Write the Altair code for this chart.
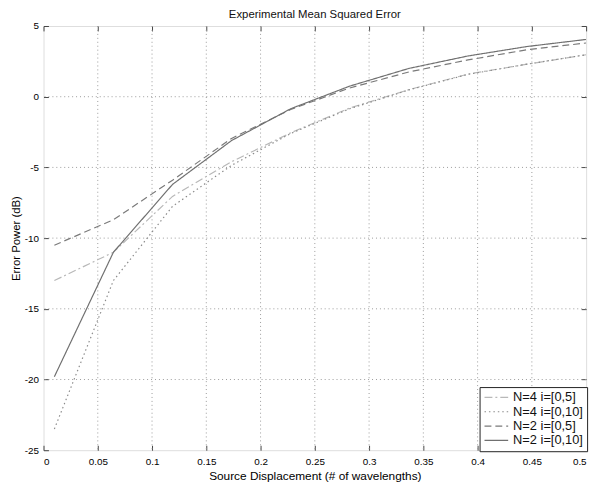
import altair as alt
import pandas as pd

# ---- data ----
x_vals = [0.01, 0.0644, 0.1189, 0.1733, 0.2278, 0.2822, 0.3367, 0.3911, 0.4456, 0.5]
series_names = ["N=4 i=[0,5]", "N=4 i=[0,10]", "N=2 i=[0,5]", "N=2 i=[0,10]"]
n4_05 = [-13.0, -11.0, -7.05, -4.6, -2.55, -0.8, 0.5, 1.6, 2.3, 2.97]
n4_010 = [-23.5, -13.0, -7.75, -4.85, -2.6, -0.85, 0.48, 1.58, 2.3, 2.97]
n2_05 = [-10.5, -8.7, -5.9, -2.95, -0.9, 0.62, 1.75, 2.6, 3.32, 3.8]
n2_010 = [-19.8, -11.0, -6.2, -3.1, -0.85, 0.75, 2.0, 2.88, 3.55, 4.05]

x_ticks = [0, 0.05, 0.1, 0.15, 0.2, 0.25, 0.3, 0.35, 0.4, 0.45, 0.5]
y_ticks = [-25, -20, -15, -10, -5, 0, 5]

line_colors = ["#b8b8b8", "#8a8a8a", "#7a7a7a", "#707070"]
line_dashes = [[8, 3, 2, 3], [1.5, 3], [7, 4], [1, 0]]

rows = []
for name, vals in zip(series_names, [n4_05, n4_010, n2_05, n2_010]):
    for xv, yv in zip(x_vals, vals):
        rows.append({"x": xv, "y": yv, "series": name})
df = pd.DataFrame(rows)
xgrid_df = pd.DataFrame({"x": x_ticks[1:-1]})
ygrid_df = pd.DataFrame({"y": y_ticks[1:-1]})

FONT = "Liberation Sans"
xscale = alt.Scale(domain=[0, 0.5], nice=False, zero=False)
yscale = alt.Scale(domain=[-25, 5], nice=False, zero=False)

grid_style = dict(strokeDash=[1, 3], color="#9a9a9a", strokeWidth=1)
vgrid = alt.Chart(xgrid_df).mark_rule(**grid_style).encode(
    x=alt.X("x:Q", scale=xscale, axis=None)
)
hgrid = alt.Chart(ygrid_df).mark_rule(**grid_style).encode(
    y=alt.Y("y:Q", scale=yscale, axis=None)
)

legend_opts = dict(
    title=None, orient="none", legendX=442, legendY=366,
    symbolType="stroke", symbolSize=576, symbolStrokeWidth=1.2, clipHeight=13,
    strokeColor="#222", fillColor="white", padding=4, rowPadding=0.5,
    labelFontSize=13, labelOffset=4, labelFont=FONT, labelColor="#111",
)

base = alt.Chart(df)

lines = base.mark_line(strokeWidth=1.2, clip=True).encode(
    x=alt.X(
        "x:Q", scale=xscale,
        axis=alt.Axis(orient="bottom", values=x_ticks, labelExpr="'' + datum.value",
                      title="Source Displacement (# of wavelengths)", titleFontWeight="normal",
                      titleFontSize=12,
                      grid=False, domain=False, tickSize=5, offset=-5, tickColor="#444",
                      labelPadding=6, titlePadding=5),
    ),
    y=alt.Y(
        "y:Q", scale=yscale,
        axis=alt.Axis(orient="left", values=y_ticks, labelExpr="'' + datum.value",
                      title="Error Power (dB)", titleFontWeight="normal",
                      titleFontSize=11.5,
                      grid=False, domain=False, tickSize=5, offset=-5, tickColor="#444",
                      labelPadding=5, titlePadding=3),
    ),
    color=alt.Color("series:N", scale=alt.Scale(domain=series_names, range=line_colors),
                    legend=alt.Legend(**legend_opts)),
    strokeDash=alt.StrokeDash("series:N", scale=alt.Scale(domain=series_names, range=line_dashes),
                              legend=alt.Legend(**legend_opts)),
)

frame = base.mark_line(opacity=0).encode(
    x=alt.X("x:Q", scale=xscale,
            axis=alt.Axis(orient="top", values=x_ticks, labels=False, title=None, grid=False,
                          domain=False, tickSize=5, offset=-5, tickColor="#444")),
    y=alt.Y("y:Q", scale=yscale,
            axis=alt.Axis(orient="right", values=y_ticks, labels=False, title=None, grid=False,
                          domain=False, tickSize=5, offset=-5, tickColor="#444")),
    detail="series:N",
)

chart = alt.layer(vgrid, hgrid, lines, frame).properties(
    width=550, height=430,
    title=alt.Title("Experimental Mean Squared Error", fontSize=11.5, fontWeight="normal",
                    font=FONT, color="#111", offset=1),
    autosize=alt.AutoSizeParams(type="none"),
    padding={"left": 36, "top": 15, "right": 9, "bottom": 32},
).configure_view(
    stroke="#444", strokeWidth=1.5, fill="white"
).configure_axis(
    labelFont=FONT, titleFont=FONT, labelFontSize=11.5, titleFontSize=12,
    labelColor="#111", titleColor="#111", titleFontWeight="normal",
).configure_legend(
    cornerRadius=0, strokeWidth=1,
).configure(background="white")

chart.save("out.html", embed_options={"renderer": "svg", "actions": False})
